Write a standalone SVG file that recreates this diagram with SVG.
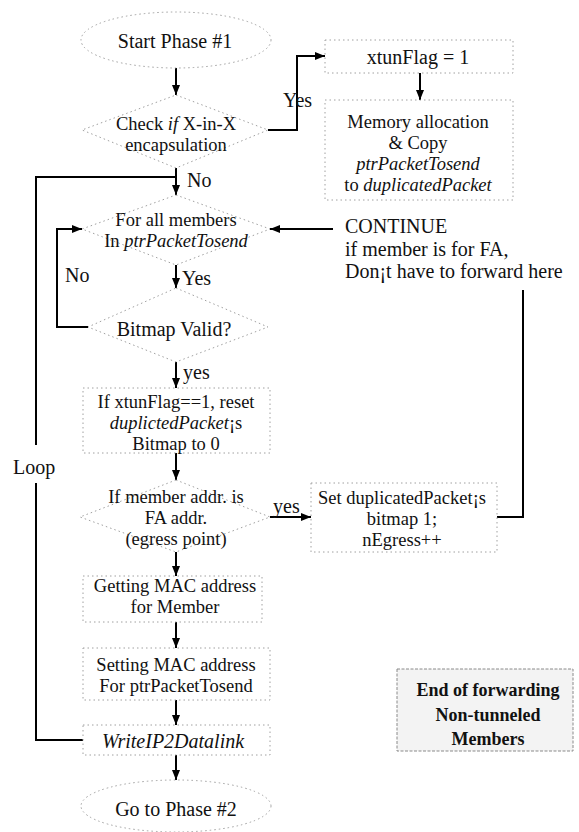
<svg xmlns="http://www.w3.org/2000/svg" width="579" height="832" viewBox="0 0 579 832">
<defs>
<marker id="ah" viewBox="0 0 10 8" refX="10" refY="4" markerWidth="10" markerHeight="8" markerUnits="userSpaceOnUse" orient="auto"><path d="M0,0 L10,4 L0,8 z" fill="#000"/></marker>
<style>
.shape{fill:none;stroke:#a0a0a0;stroke-width:1;stroke-dasharray:1.5 3}
.endbox{fill:#f3f3f3;stroke:#8a8a8a;stroke-width:1;stroke-dasharray:3 1.5}
.conn{fill:none;stroke:#000;stroke-width:2}
.arr{marker-end:url(#ah)}
text{font-family:"Liberation Serif","Times New Roman",serif;font-size:20px;fill:#111}
.m{font-size:18.5px}
.c{text-anchor:middle}
.i{font-style:italic}
.b{font-weight:bold;font-size:18px}
</style>
</defs>
<rect width="579" height="832" fill="#fff"/>

<g id="connectors">
<path class="conn arr" d="M176,68 V95"/>
<path class="conn arr" d="M268,130 H297 V56 H325"/>
<path class="conn arr" d="M420,73 V100"/>
<path class="conn arr" d="M176,168 V195"/>
<path class="conn" d="M83,740 H36 V483 M36,445 V177 H176"/>
<path class="conn arr" d="M88,327 H57 V229 H82"/>
<path class="conn arr" d="M333,229 H270"/>
<path class="conn" d="M497,517 H523 V290"/>
<path class="conn arr" d="M176,265 V288"/>
<path class="conn arr" d="M176,362 V388"/>
<path class="conn arr" d="M176,453 V480"/>
<path class="conn arr" d="M270,517 H311"/>
<path class="conn arr" d="M176,552 V576"/>
<path class="conn arr" d="M176,622 V648"/>
<path class="conn arr" d="M176,700 V725"/>
<path class="conn arr" d="M176,755 V780"/>
<text x="283" y="107">Yes</text>
<text x="187" y="187">No</text>
<text x="65" y="282">No</text>
<text x="182" y="285">Yes</text>
<text x="183" y="379">yes</text>
<text x="13" y="474">Loop</text>
<text x="273" y="513">yes</text>
</g>

<g id="start">
<ellipse class="shape" cx="176" cy="40" rx="95" ry="28"/>
<text class="c" x="175" y="48">Start Phase #1</text>
</g>

<g id="check">
<polygon class="shape" points="176,95 268,130 176,168 82,130"/>
<text class="c m"><tspan x="176" y="130">Check <tspan class="i">if</tspan> X-in-X</tspan><tspan x="176" y="151">encapsulation</tspan></text>
</g>

<g id="xtunflag">
<rect class="shape" x="325" y="40" width="188" height="33"/>
<text class="c" x="418" y="64">xtunFlag = 1</text>
</g>

<g id="memory">
<rect class="shape" x="325" y="100" width="188" height="100"/>
<text class="c m"><tspan x="418" y="128">Memory allocation</tspan><tspan x="418" y="149">&amp; Copy</tspan><tspan class="i" x="418" y="170">ptrPacketTosend</tspan><tspan x="418" y="191">to <tspan class="i">duplicatedPacket</tspan></tspan></text>
</g>

<g id="forall">
<polygon class="shape" points="176,195 270,229 176,265 82,229"/>
<text class="c m"><tspan x="176" y="225.5">For all members</tspan><tspan x="176" y="246.5">In <tspan class="i">ptrPacketTosend</tspan></tspan></text>
</g>

<g id="continue">
<text><tspan x="345" y="233">CONTINUE</tspan><tspan x="345" y="255.5">if member is for FA,</tspan><tspan x="345" y="278">Don¡t have to forward here</tspan></text>
</g>

<g id="bitmap">
<polygon class="shape" points="176,288 268,327 176,362 88,327"/>
<text class="c" x="174" y="336">Bitmap Valid?</text>
</g>

<g id="reset">
<rect class="shape" x="83" y="388" width="187" height="65"/>
<text class="c m"><tspan x="176" y="408">If xtunFlag==1, reset</tspan><tspan x="176" y="429"><tspan class="i">duplictedPacket</tspan>¡s</tspan><tspan x="176" y="450">Bitmap to 0</tspan></text>
</g>

<g id="member">
<polygon class="shape" points="176,480 270,517 176,552 80,517"/>
<text class="c m"><tspan x="176" y="503">If member addr. is</tspan><tspan x="176" y="524">FA addr.</tspan><tspan x="176" y="545">(egress point)</tspan></text>
</g>

<g id="setdup">
<rect class="shape" x="311" y="483" width="186" height="69"/>
<text class="c m"><tspan x="402" y="504">Set duplicatedPacket¡s</tspan><tspan x="402" y="525">bitmap 1;</tspan><tspan x="402" y="546">nEgress++</tspan></text>
</g>

<g id="getmac">
<rect class="shape" x="83" y="576" width="179" height="46"/>
<text class="c m"><tspan x="175" y="591.5">Getting MAC address</tspan><tspan x="175" y="612.5">for Member</tspan></text>
</g>

<g id="setmac">
<rect class="shape" x="83" y="648" width="187" height="52"/>
<text class="c m"><tspan x="176" y="671">Setting MAC address</tspan><tspan x="176" y="692">For ptrPacketTosend</tspan></text>
</g>

<g id="write">
<rect class="shape" x="83" y="725" width="187" height="30"/>
<text class="c i" x="173" y="748">WriteIP2Datalink</text>
</g>

<g id="goto">
<ellipse class="shape" cx="176" cy="806" rx="95" ry="26"/>
<text class="c" x="176" y="816">Go to Phase #2</text>
</g>

<g id="endnote">
<rect class="endbox" x="397" y="669" width="176" height="82"/>
<text class="c b"><tspan x="488" y="696">End of forwarding</tspan><tspan x="488" y="721">Non-tunneled</tspan><tspan x="488" y="745">Members</tspan></text>
</g>
</svg>
